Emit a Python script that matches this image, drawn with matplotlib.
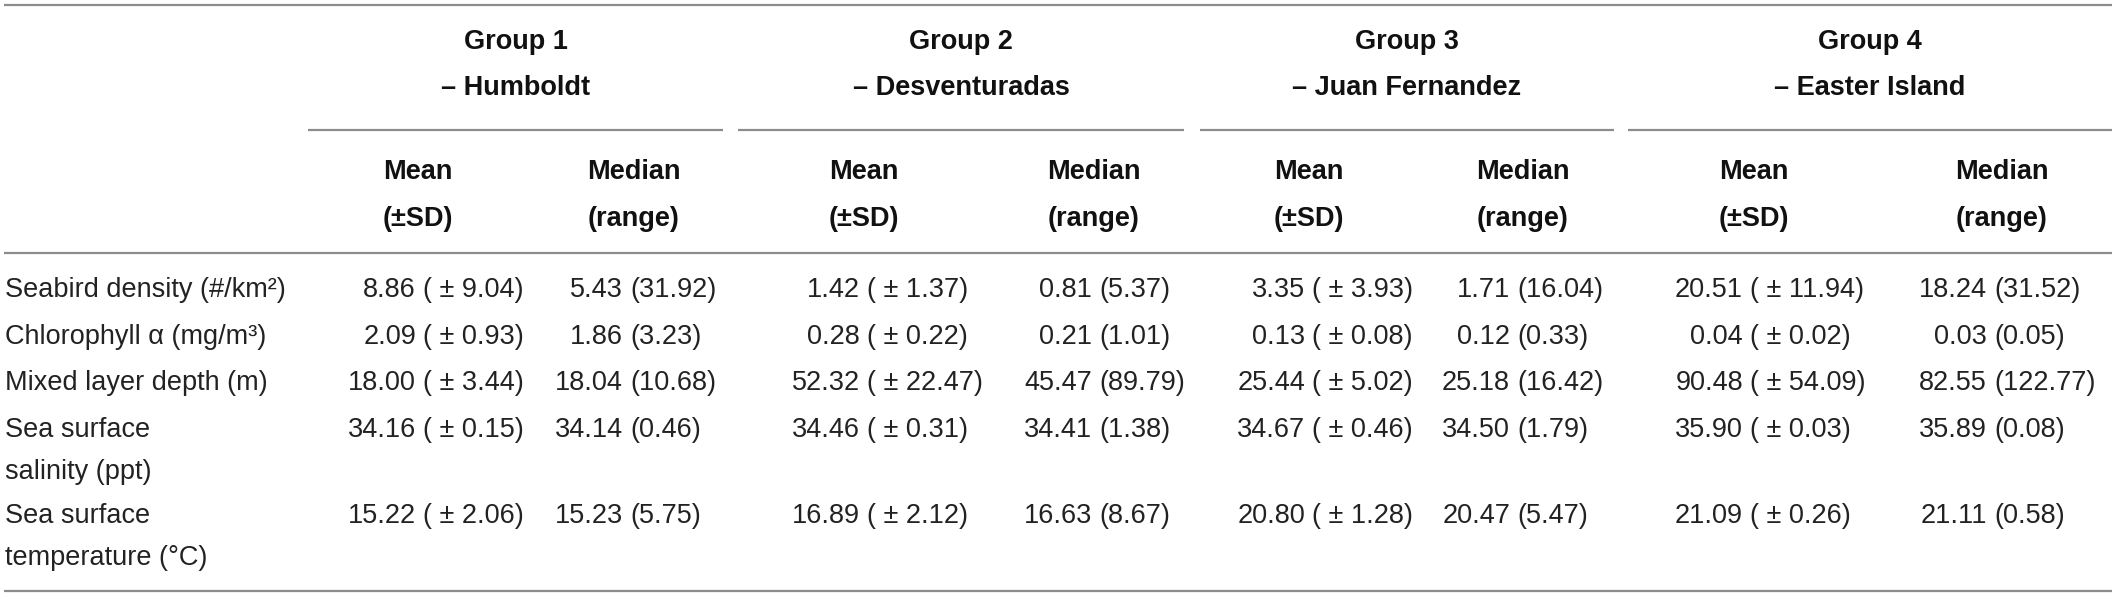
import numpy as np
import matplotlib.pyplot as plt

plt.rcParams['font.family'] = ['Liberation Sans', 'DejaVu Sans']

groups = ['Group 1\n– Humboldt', 'Group 2\n– Desventuradas',
          'Group 3\n– Juan Fernandez', 'Group 4\n– Easter Island']
variables = ['Seabird density (#/km²)', 'Chlorophyll α (mg/m³)',
             'Mixed layer depth (m)', 'Sea surface\nsalinity (ppt)',
             'Sea surface\ntemperature (°C)']

# rows = variables, columns = groups
means = [['8.86', '1.42', '3.35', '20.51'],
         ['2.09', '0.28', '0.13', '0.04'],
         ['18.00', '52.32', '25.44', '90.48'],
         ['34.16', '34.46', '34.67', '35.90'],
         ['15.22', '16.89', '20.80', '21.09']]
sds = [['9.04', '1.37', '3.93', '11.94'],
       ['0.93', '0.22', '0.08', '0.02'],
       ['3.44', '22.47', '5.02', '54.09'],
       ['0.15', '0.31', '0.46', '0.03'],
       ['2.06', '2.12', '1.28', '0.26']]
medians = [['5.43', '0.81', '1.71', '18.24'],
           ['1.86', '0.21', '0.12', '0.03'],
           ['18.04', '45.47', '25.18', '82.55'],
           ['34.14', '34.41', '34.50', '35.89'],
           ['15.23', '16.63', '20.47', '21.11']]
ranges = [['31.92', '5.37', '16.04', '31.52'],
          ['3.23', '1.01', '0.33', '0.05'],
          ['10.68', '89.79', '16.42', '122.77'],
          ['0.46', '1.38', '1.79', '0.08'],
          ['5.75', '8.67', '5.47', '0.58']]

W, H = 2117, 598
fig = plt.figure(figsize=(W / 100, H / 100), dpi=100)
ax = fig.add_axes([0, 0, 1, 1])
ax.set_xlim(0, W)
ax.set_ylim(H, 0)
ax.axis('off')

line_col = '#8c8c8c'
txt_col = '#222222'
fs = 19.5

# layout (pixels)
paren_x = [423, 630, 867, 1099, 1312, 1517, 1750, 1994]
sub_x = [418, 634, 864, 1094, 1309, 1523, 1754, 2002]
spans = [(308, 723), (738, 1184), (1200, 1614), (1628, 2112)]
row_y = [290, 337, 383, 430, 516]
line_gap = 42

# horizontal rules
for y in [5, 253, 591]:
    ax.plot([4, 2112], [y, y], color=line_col, lw=1.6, solid_capstyle='butt')
for x0, x1 in spans:
    ax.plot([x0, x1], [130, 130], color=line_col, lw=1.6, solid_capstyle='butt')

# group headers
for g, (x0, x1) in zip(groups, spans):
    top, bot = g.split('\n')
    xc = (x0 + x1) / 2
    ax.text(xc, 42, top, ha='center', va='center', fontsize=fs, fontweight='bold', color='#111111')
    ax.text(xc, 88, bot, ha='center', va='center', fontsize=fs, fontweight='bold', color='#111111')

# sub headers
for k, x in enumerate(sub_x):
    if k % 2 == 0:
        a, b = 'Mean', '(±SD)'
    else:
        a, b = 'Median', '(range)'
    ax.text(x, 172, a, ha='center', va='center', fontsize=fs, fontweight='bold', color='#111111')
    ax.text(x, 219, b, ha='center', va='center', fontsize=fs, fontweight='bold', color='#111111')

# body
for i, var in enumerate(variables):
    y = row_y[i]
    for j, part in enumerate(var.split('\n')):
        ax.text(5, y + j * line_gap, part, ha='left', va='center', fontsize=fs, color=txt_col)
    for g in range(4):
        xm = paren_x[2 * g]
        xd = paren_x[2 * g + 1]
        ax.text(xm - 7, y, means[i][g], ha='right', va='center', fontsize=fs, color=txt_col)
        ax.text(xm, y, '( ± ' + sds[i][g] + ')', ha='left', va='center', fontsize=fs, color=txt_col)
        ax.text(xd - 7, y, medians[i][g], ha='right', va='center', fontsize=fs, color=txt_col)
        ax.text(xd, y, '(' + ranges[i][g] + ')', ha='left', va='center', fontsize=fs, color=txt_col)

fig.savefig('out.png', dpi=100)
